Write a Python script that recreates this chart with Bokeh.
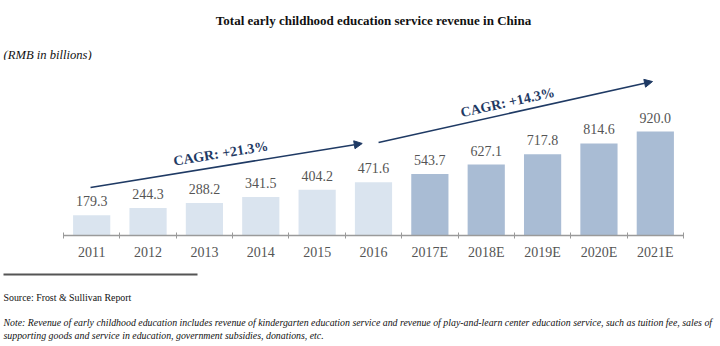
from bokeh.plotting import figure
from bokeh.layouts import column
from bokeh.models import (ColumnDataSource, Range1d, LinearAxis, FixedTicker,
                          Label, Arrow, NormalHead)
from bokeh.core.properties import value
from bokeh.embed import file_html
from bokeh.resources import INLINE
import math

years = ["2011", "2012", "2013", "2014", "2015", "2016",
         "2017E", "2018E", "2019E", "2020E", "2021E"]
revenue = [179.3, 244.3, 288.2, 341.5, 404.2, 471.6, 543.7, 627.1, 717.8, 814.6, 920.0]
is_forecast = [False] * 6 + [True] * 5
value_labels = ["%.1f" % v for v in revenue]
cagr_labels = ["CAGR: +21.3%", "CAGR: +14.3%"]

title_text = "Total early childhood education service revenue in China"
unit_text = "(RMB in billions)"
source_text = "Source: Frost & Sullivan Report"
note_lines = [
    "Note: Revenue of early childhood education includes revenue of kindergarten education service and revenue of play-and-learn center education service, such as tuition fee, sales of",
    "supporting goods and service in education, government subsidies, donations, etc.",
]

HIST = "#dae4ef"
FCST = "#a9bcd4"
NAVY = "#1f3a64"
GREY = "#555555"
SERIF = "Liberation Serif"

W, H = 720, 346
HEAD_H = 60          # header panel height
FOOT_Y = 262         # footer panel top
MAIN_H = FOOT_Y - HEAD_H
FL, FR = 63, 37      # chart axis spans pixel 63 .. 683
FB = 235 - HEAD_H    # baseline inside main panel

n = len(years)
centers = [i + 0.5 for i in range(n)]
colors = [FCST if f else HIST for f in is_forecast]
src = ColumnDataSource(dict(x=centers, top=revenue, color=colors, lbl=value_labels))

px_per_unit = 104.0 / 920.0
px_per_cat = (W - FL - FR) / n
y_end = FB / px_per_unit


def blank_panel(h):
    f = figure(width=W, height=h, x_range=Range1d(0, W), y_range=Range1d(h, 0),
               output_backend="svg", toolbar_location=None, min_border=0,
               x_axis_location=None, y_axis_location=None)
    f.outline_line_color = None
    f.grid.visible = False
    return f


def add_text(f, x, y, text, size, style="normal", align="left", color="#111111"):
    f.add_layout(Label(x=x, y=y, text=text, text_align=align, text_baseline="middle",
                       text_font=SERIF, text_font_style=style, text_font_size=size,
                       text_color=color))


# header
head = blank_panel(HEAD_H)
add_text(head, 373, 20, title_text, "13px", "bold", "center")
add_text(head, 3, 54, unit_text, "12.6px", "italic")

# main chart (frame spans full width; category axis bounded to the bars)
p = figure(width=W, height=MAIN_H,
           x_range=Range1d(-FL / px_per_cat, n + FR / px_per_cat),
           y_range=Range1d(0, y_end), output_backend="svg", toolbar_location=None,
           min_border_left=0, min_border_right=0, min_border_top=0,
           min_border_bottom=MAIN_H - FB, x_axis_location=None, y_axis_location=None)
p.outline_line_color = None
p.grid.visible = False

p.vbar(x="x", top="top", width=0.66, fill_color="color", line_color=None, source=src)
p.text(x="x", y="top", text="lbl", source=src, text_align="center",
       text_baseline="bottom", y_offset=-9, text_font=value(SERIF),
       text_font_size="14px", text_color=GREY)

eax = LinearAxis(ticker=FixedTicker(ticks=list(range(n + 1))), bounds=(0, n),
                 axis_line_color="#9a9a9a", axis_line_width=1.5,
                 major_tick_line_color="#9a9a9a", major_tick_in=3, major_tick_out=3,
                 minor_tick_line_color=None, major_label_text_font_size="0px",
                 major_label_standoff=0)
eax.major_label_overrides = {i: "" for i in range(n + 1)}
p.add_layout(eax, "below")

cax = LinearAxis(ticker=FixedTicker(ticks=centers), axis_line_color=None,
                 major_tick_line_color=None, minor_tick_line_color=None,
                 major_label_text_font=SERIF, major_label_text_font_size="14px",
                 major_label_text_color=GREY, major_label_standoff=0)
cax.major_label_overrides = {c: y for c, y in zip(centers, years)}
p.add_layout(cax, "below")

arrows = [((0.48, 425), (5.3, 814)), ((5.59, 823), (10.45, 1362))]
for (xs, ys), (xe, ye) in arrows:
    p.add_layout(Arrow(x_start=xs, y_start=ys, x_end=xe, y_end=ye,
                       line_color=NAVY, line_width=1.6,
                       end=NormalHead(size=8, fill_color=NAVY, line_color=NAVY)))

cagr_pos = [(2.79, 725), (7.88, 1177)]
for (x, y), t, (s, e) in zip(cagr_pos, cagr_labels, arrows):
    ang = math.atan2((e[1] - s[1]) * px_per_unit, (e[0] - s[0]) * px_per_cat)
    p.add_layout(Label(x=x, y=y, text=t, angle=ang, text_align="center",
                       text_baseline="middle", text_font=SERIF, text_font_style="bold",
                       text_font_size="14px", text_color=NAVY))

# footer
foot = blank_panel(H - FOOT_Y)
foot.segment(x0=[3], y0=[274 - FOOT_Y], x1=[197], y1=[274 - FOOT_Y],
             line_color="#555555", line_width=2)
add_text(foot, 3, 297 - FOOT_Y, source_text, "9.9px")
add_text(foot, 3, 322 - FOOT_Y, note_lines[0], "9.85px", "italic")
add_text(foot, 3, 335 - FOOT_Y, note_lines[1], "9.85px", "italic")

layout = column(head, p, foot, spacing=0)
open("out.html", "w").write(file_html(layout, INLINE))
